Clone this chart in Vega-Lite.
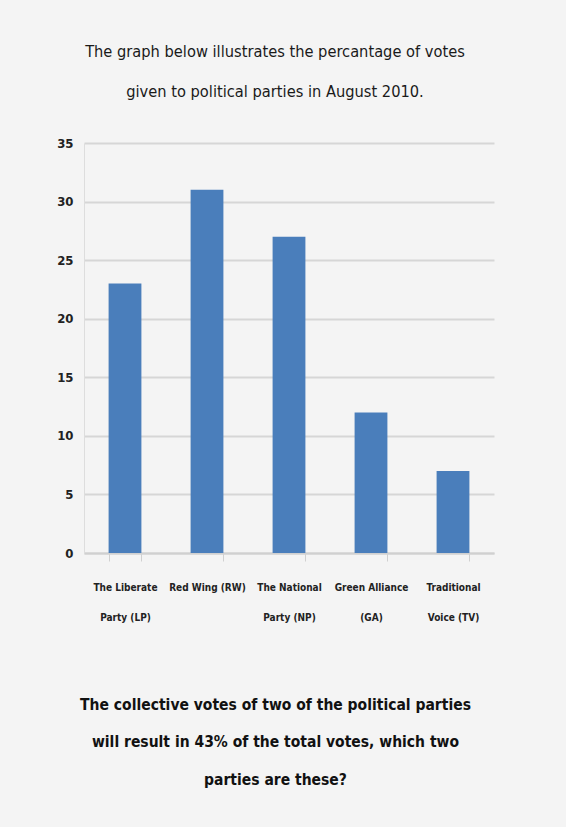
{
  "$schema": "https://vega.github.io/schema/vega-lite/v6.json",
  "width": 410,
  "height": 410,
  "autosize": {"type": "none"},
  "padding": {"left": 84, "top": 143, "right": 72, "bottom": 274},
  "background": "#f4f4f4",
  "title": {
    "text": ["The graph below illustrates the percantage of votes", "given to political parties in August 2010."],
    "font": "DejaVu Sans Condensed, sans-serif",
    "fontSize": 16.3,
    "fontWeight": "normal",
    "lineHeight": 40,
    "color": "#1a1a1a",
    "anchor": "middle",
    "dx": -14,
    "offset": 37
  },
  "data": {
    "values": [
      {"party": "The Liberate Party (LP)", "votes": 23},
      {"party": "Red Wing (RW)", "votes": 31},
      {"party": "The National Party (NP)", "votes": 27},
      {"party": "Green Alliance (GA)", "votes": 12},
      {"party": "Traditional Voice (TV)", "votes": 7}
    ]
  },
  "mark": {"type": "bar", "color": "#4a7ebb"},
  "encoding": {
    "x": {
      "field": "party",
      "type": "nominal",
      "sort": null,
      "scale": {"paddingInner": 0.6, "paddingOuter": 0.3},
      "axis": {
        "title": ["The collective votes of two of the political parties", "will result in 43% of the total votes, which two", "parties are these?"],
        "titleFont": "DejaVu Sans Condensed, sans-serif",
        "titleFontSize": 15.5,
        "titleFontWeight": "bold",
        "titleColor": "#111111",
        "titleLineHeight": 37.5,
        "titleAlign": "center",
        "titleBaseline": "alphabetic",
        "titleX": 191,
        "titleY": 156,
        "labelAngle": 0,
        "labelFont": "DejaVu Sans Condensed, sans-serif",
        "labelFontSize": 10,
        "labelFontWeight": "bold",
        "labelColor": "#222222",
        "labelLineHeight": 30,
        "labelPadding": 21,
        "labelLimit": 0,
        "labelExpr": "datum.label == 'The Liberate Party (LP)' ? ['The Liberate', 'Party (LP)'] : datum.label == 'The National Party (NP)' ? ['The National', 'Party (NP)'] : datum.label == 'Green Alliance (GA)' ? ['Green Alliance', '(GA)'] : datum.label == 'Traditional Voice (TV)' ? ['Traditional', 'Voice (TV)'] : datum.label",
        "tickBand": "extent",
        "tickSize": 8,
        "tickColor": "#d0d0d0",
        "domainColor": "#d0d0d0",
        "domainWidth": 2,
        "grid": false
      }
    },
    "y": {
      "field": "votes",
      "type": "quantitative",
      "scale": {"domain": [0, 35]},
      "axis": {
        "title": null,
        "values": [0, 5, 10, 15, 20, 25, 30, 35],
        "labelFont": "DejaVu Sans Condensed, sans-serif",
        "labelFontSize": 13,
        "labelFontWeight": "bold",
        "labelColor": "#222222",
        "labelPadding": 11,
        "ticks": false,
        "domainColor": "#dddddd",
        "domainWidth": 1,
        "gridColor": "#d6d6d6",
        "gridWidth": 2
      }
    }
  },
  "config": {"view": {"stroke": null}}
}
